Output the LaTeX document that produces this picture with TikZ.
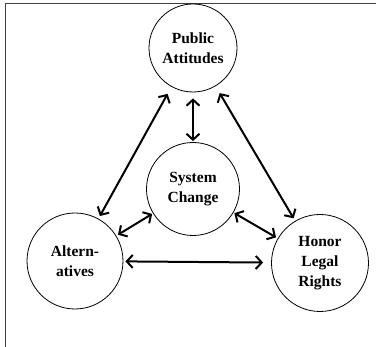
\documentclass[tikz,border=0pt]{standalone}
\usepackage{fontspec}
\setmainfont{Liberation Serif}
\usetikzlibrary{arrows.meta}
\begin{document}
\begin{tikzpicture}[x=1pt,y=1pt,
  bubble/.style={circle,draw,line width=0.8pt,inner sep=0pt,align=center,
    font=\fontsize{15.5}{20}\selectfont\bfseries},
  link/.style={line width=2pt,{Straight Barb[length=6pt,width=13pt]}-{Straight Barb[length=6pt,width=13pt]}}]
\useasboundingbox (0,0) rectangle (376,347);
\draw[line width=1.2pt,black!75] (5.5,0) -- (5.5,343.5) -- (376,343.5);
\node[bubble,minimum size=88pt] (pa) at (193,299) {Public\\Attitudes};
\node[bubble,minimum size=93pt] (sc) at (193,158) {System\\Change};
\node[bubble,minimum size=96pt] (al) at (75,86) {Altern-\\atives};
\node[bubble,minimum size=97pt] (hr) at (320,84) {Honor\\Legal\\Rights};
\draw[link,shorten <=8pt,shorten >=3pt] (pa) -- (al);
\draw[link,shorten <=8pt,shorten >=3pt] (pa) -- (hr);
\draw[link,shorten <=6pt,shorten >=1pt] (pa) -- (sc);
\draw[link,shorten <=1pt,shorten >=2pt] (sc) -- (al);
\draw[link,shorten <=1pt,shorten >=2pt] (sc) -- (hr);
\draw[link,shorten <=2pt,shorten >=8pt] (al) -- (hr);
\end{tikzpicture}
\end{document}
